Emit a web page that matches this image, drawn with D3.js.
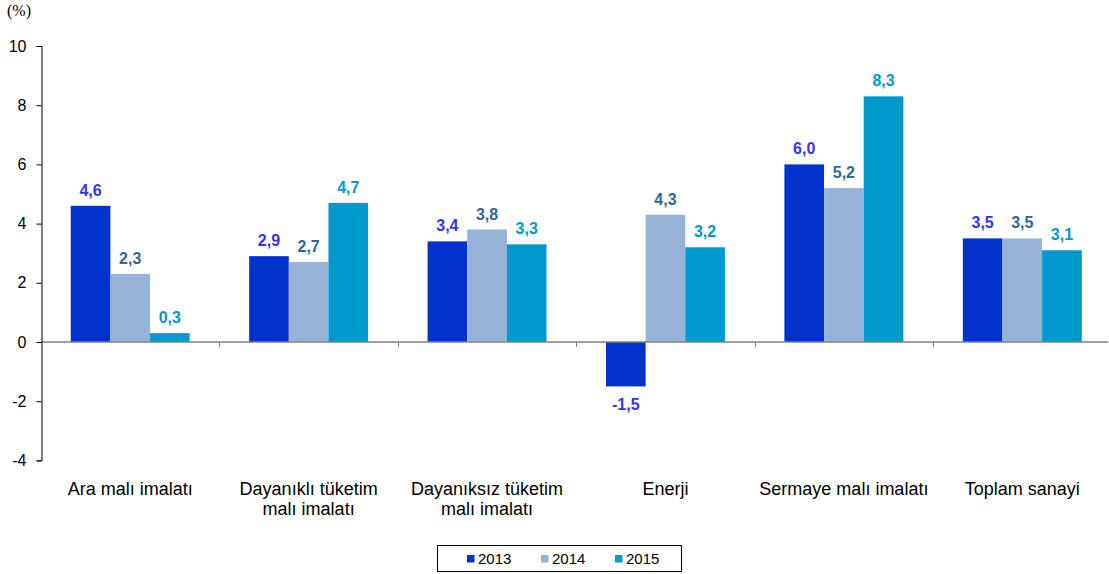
<!DOCTYPE html>
<html><head><meta charset="utf-8">
<script src="https://cdn.jsdelivr.net/npm/d3@7"></script>
<style>body{margin:0;background:#fff;} svg{display:block;}</style>
</head><body><svg id="c" width="1109" height="574"></svg>
<script>
const categories = [["Ara malı imalatı"],["Dayanıklı tüketim","malı imalatı"],["Dayanıksız tüketim","malı imalatı"],["Enerji"],["Sermaye malı imalatı"],["Toplam sanayi"]];
const seriesNames = ["2013","2014","2015"];
const v2013 = [4.6, 2.9, 3.4, -1.5, 6.0, 3.5];
const v2014 = [2.3, 2.7, 3.8, 4.3, 5.2, 3.5];
const v2015 = [0.3, 4.7, 3.3, 3.2, 8.3, 3.1];
const yTicks = [-4,-2,0,2,4,6,8,10];

(function(){
const series = [v2013, v2014, v2015];
const barColors = ["#0033CC","#95B3D7","#0099CC"];
const labelColors = ["#3333FF","#336699","#0099CC"];
const FONT = "Arial, 'Liberation Sans', sans-serif";

const svg = d3.select("#c");
const pL = 41, pR = 1111.5, pT = 46, pB = 460.4;
const x0 = d3.scaleBand().domain(d3.range(categories.length)).range([pL,pR]).paddingInner(0).paddingOuter(0);
const y = d3.scaleLinear().domain([-4,10]).range([pB, pT]);
const bw = x0.bandwidth();
const x1 = d3.scaleBand().domain(d3.range(3)).range([bw/6, bw*5/6]).padding(0);
const fmt = v => v.toFixed(1).replace(".", ",");

series.forEach((vals, s) => {
  svg.append("g").selectAll("rect").data(vals).join("rect")
    .attr("x", (d,i) => x0(i) + x1(s))
    .attr("width", x1.bandwidth())
    .attr("y", d => y(Math.max(0,d)))
    .attr("height", d => Math.abs(y(d) - y(0)))
    .attr("fill", barColors[s]);
  svg.append("g").selectAll("text").data(vals).join("text")
    .attr("x", (d,i) => x0(i) + x1(s) + x1.bandwidth()/2)
    .attr("y", d => d >= 0 ? y(d) - 10 : y(d) + 24)
    .attr("text-anchor","middle")
    .attr("font-family",FONT)
    .attr("font-weight","bold").attr("font-size",16)
    .attr("fill", labelColors[s])
    .text(d => fmt(d));
});

svg.append("line").attr("x1",pL).attr("x2",1108).attr("y1",y(0)).attr("y2",y(0))
  .attr("stroke","#808080").attr("stroke-width",1.5);
svg.append("g").selectAll("line").data(d3.range(1,categories.length)).join("line")
  .attr("x1", i => Math.round(pL + i*bw)+0.5).attr("x2", i => Math.round(pL + i*bw)+0.5)
  .attr("y1", y(0)).attr("y2", y(0)+5).attr("stroke","#808080");

const yAxis = svg.append("g").attr("transform",`translate(${pL+0.5},0)`)
  .call(d3.axisLeft(y).tickValues(yTicks).tickSize(5).tickPadding(10).tickFormat(d => String(d)));
yAxis.select(".domain").attr("stroke","#000");
yAxis.selectAll(".tick line").attr("stroke","#000");
yAxis.selectAll("text").attr("font-family",FONT).attr("font-size",16).attr("fill","#000");

categories.forEach((lines,i) => {
  const t = svg.append("text").attr("text-anchor","middle")
    .attr("font-family",FONT).attr("font-size",18).attr("fill","#000");
  lines.forEach((ln,k) => t.append("tspan").attr("x", x0(i)+bw/2).attr("y", 495 + k*19.5).text(ln));
});

svg.append("text").attr("x",7).attr("y",16).attr("font-family","'Liberation Serif', 'Times New Roman', serif")
  .attr("font-size",16).text("(%)");

svg.append("rect").attr("x",437.5).attr("y",545.5).attr("width",244).attr("height",26)
  .attr("fill","none").attr("stroke","#000");
const legX = [467, 541, 615];
seriesNames.forEach((n,s) => {
  svg.append("rect").attr("x",legX[s]).attr("y",555).attr("width",7.5).attr("height",7.5).attr("fill",barColors[s]);
  svg.append("text").attr("x",legX[s]+11).attr("y",563.5).attr("font-family",FONT)
    .attr("font-size",15).text(n);
});
})();
</script></body></html>
